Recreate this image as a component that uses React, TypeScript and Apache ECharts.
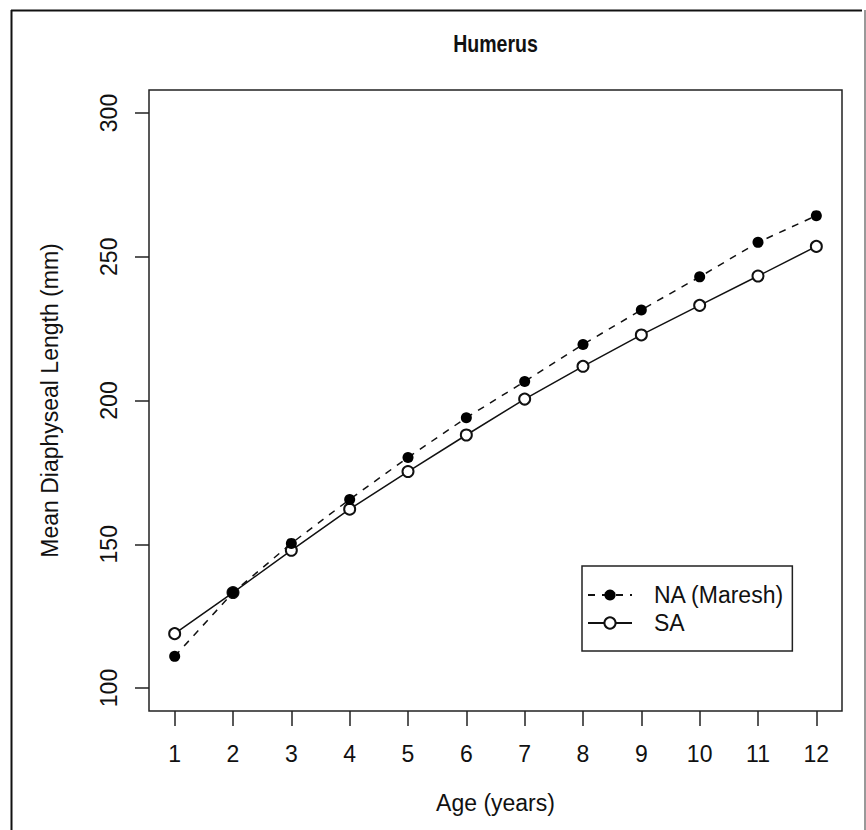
import React, { useEffect, useRef } from "react";
import * as echarts from "echarts";

// Mean humerus diaphyseal length by age
const ages = [1, 2, 3, 4, 5, 6, 7, 8, 9, 10, 11, 12];
const naMaresh = [111.0, 133.2, 150.3, 165.6, 180.2, 194.0, 206.6, 219.5, 231.5, 243.0, 255.0, 264.3];
const saValues = [118.9, 133.2, 147.9, 162.2, 175.3, 188.0, 200.5, 211.9, 222.8, 233.1, 243.3, 253.6];
const yTicks = [100, 150, 200, 250, 300];
const xTicks = ages;

const FONT = "'Liberation Sans', Arial, Helvetica, sans-serif";
const LABEL_SIZE = 23;

export default function App() {
  const ref = useRef<HTMLDivElement>(null);

  useEffect(() => {
    if (!ref.current) return;
    const chart = echarts.init(ref.current, null, { renderer: "svg" });
    const left = 149;
    const top = 90;
    const width = 693;
    const height = 621;

    chart.setOption({
      animation: false,
      backgroundColor: "#fff",
      textStyle: { fontFamily: FONT },
      grid: {
        left,
        top,
        width,
        height,
        show: true,
        borderColor: "#222",
        borderWidth: 1.5,
        backgroundColor: "transparent",
      },
      xAxis: {
        type: "value",
        min: 0.56,
        max: 12.44,
        name: "Age (years)",
        nameLocation: "middle",
        nameGap: 80,
        nameTextStyle: { fontSize: LABEL_SIZE, color: "#111", fontFamily: FONT },
        axisLine: { show: false },
        splitLine: { show: false },
        axisTick: {
          show: true,
          inside: false,
          length: 15,
          customValues: xTicks,
          lineStyle: { color: "#222", width: 1.5 },
        },
        axisLabel: {
          customValues: xTicks,
          margin: 31,
          fontSize: LABEL_SIZE,
          color: "#111",
          fontFamily: FONT,
        },
      },
      yAxis: {
        type: "value",
        min: 92,
        max: 308,
        name: "Mean Diaphyseal Length (mm)",
        nameLocation: "middle",
        nameGap: 88,
        nameRotate: 90,
        nameTextStyle: { fontSize: LABEL_SIZE, color: "#111", fontFamily: FONT },
        axisLine: { show: false },
        splitLine: { show: false },
        axisTick: {
          show: true,
          inside: false,
          length: 14,
          customValues: yTicks,
          lineStyle: { color: "#222", width: 1.5 },
        },
        axisLabel: {
          customValues: yTicks,
          rotate: 90,
          margin: 29,
          fontSize: LABEL_SIZE,
          color: "#111",
          fontFamily: FONT,
        },
      },
      legend: {
        orient: "vertical",
        left: 582,
        top: 566,
        padding: [17, 8, 16, 5],
        borderColor: "#222",
        borderWidth: 1.5,
        backgroundColor: "#fff",
        itemWidth: 44,
        itemHeight: 14,
        itemGap: 4,
        textStyle: {
          fontSize: LABEL_SIZE,
          lineHeight: 24,
          color: "#111",
          fontFamily: FONT,
          padding: [0, 0, 0, 17],
        },
        data: ["NA (Maresh)", "SA"],
      },
      series: [
        {
          name: "NA (Maresh)",
          type: "line",
          data: ages.map((a, i) => [a, naMaresh[i]]),
          symbol: "circle",
          symbolSize: 11,
          itemStyle: { color: "#000" },
          lineStyle: { color: "#111", width: 1.5, type: [7, 7] },
          z: 3,
        },
        {
          name: "SA",
          type: "line",
          data: ages.map((a, i) => [a, saValues[i]]),
          symbol: "emptyCircle",
          symbolSize: 11,
          itemStyle: { color: "#111", borderWidth: 1.4 },
          lineStyle: { color: "#111", width: 1.5, type: "solid" },
          z: 2,
        },
      ],
      graphic: [
        {
          type: "text",
          x: left + width / 2,
          y: 44,
          scaleX: 0.85,
          style: {
            text: "Humerus",
            fontSize: 23,
            fontWeight: "bold",
            fontFamily: FONT,
            fill: "#111",
            textAlign: "center",
            textVerticalAlign: "middle",
          },
        },
        {
          type: "line",
          shape: { x1: 11, y1: 10.5, x2: 862, y2: 10.5 },
          style: { stroke: "#111", lineWidth: 2 },
        },
        {
          type: "line",
          shape: { x1: 11.5, y1: 10, x2: 11.5, y2: 830 },
          style: { stroke: "#111", lineWidth: 2 },
        },
        {
          type: "line",
          shape: { x1: 865, y1: 10, x2: 865, y2: 830 },
          style: { stroke: "#999", lineWidth: 2 },
        },
      ],
    });

    return () => chart.dispose();
  }, []);

  return (
    <div
      ref={ref}
      style={{ position: "fixed", left: 0, top: 0, width: 866, height: 830 }}
    />
  );
}
